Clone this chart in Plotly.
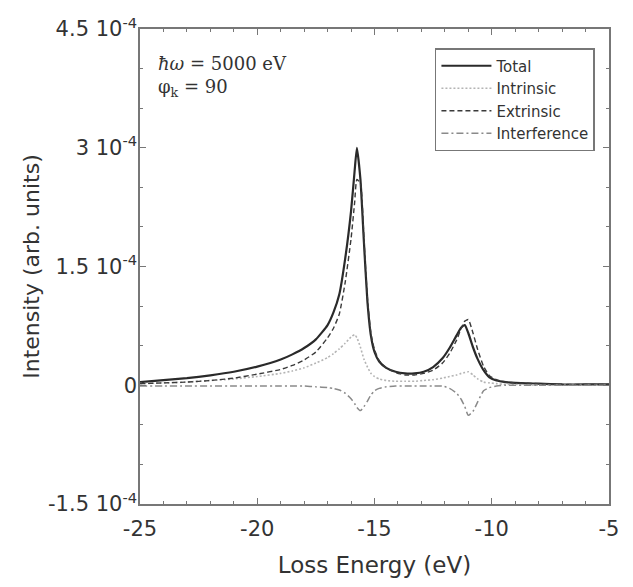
import plotly.graph_objects as go

energy = [-25, -24, -23, -22, -21, -20, -19, -18.5, -18, -17.5,
          -17, -16.75, -16.5, -16.25, -16, -15.85, -15.75, -15.6, -15.45, -15.3,
          -15.15, -15.0, -14.8, -14.5, -14.1, -13.7, -13.3, -12.9, -12.5, -12.1,
          -11.8, -11.5, -11.3, -11.15, -11.0, -10.8, -10.6, -10.35, -10.1, -9.8,
          -9.4, -9, -8, -7, -6, -5]

total = [0.04, 0.065, 0.09, 0.125, 0.17, 0.235, 0.325, 0.39, 0.47, 0.58,
         0.76, 0.92, 1.15, 1.6, 2.2, 2.7, 3.0, 2.6, 1.8, 1.05,
         0.62, 0.42, 0.3, 0.22, 0.17, 0.15, 0.15, 0.17, 0.23, 0.34,
         0.47, 0.63, 0.73, 0.76, 0.66, 0.48, 0.33, 0.19, 0.1, 0.06,
         0.04, 0.03, 0.02, 0.01, 0.01, 0.01]

intrinsic = [0.02, 0.03, 0.04, 0.06, 0.08, 0.11, 0.15, 0.18, 0.22, 0.28,
             0.35, 0.40, 0.46, 0.53, 0.61, 0.64, 0.60, 0.48, 0.33, 0.23,
             0.15, 0.11, 0.08, 0.06, 0.05, 0.05, 0.05, 0.06, 0.07, 0.09,
             0.11, 0.13, 0.15, 0.16, 0.17, 0.13, 0.08, 0.04, 0.03, 0.02,
             0.01, 0.01, 0.0, 0.0, 0.0, 0.0]

extrinsic = [0.02, 0.03, 0.04, 0.06, 0.09, 0.14, 0.20, 0.25, 0.32, 0.42,
             0.60, 0.72, 0.90, 1.30, 1.85, 2.30, 2.60, 2.55, 1.85, 1.10,
             0.65, 0.45, 0.31, 0.22, 0.16, 0.13, 0.13, 0.15, 0.19, 0.28,
             0.40, 0.57, 0.72, 0.81, 0.83, 0.66, 0.45, 0.24, 0.12, 0.07,
             0.04, 0.03, 0.02, 0.01, 0.01, 0.01]

interference = [-0.01, -0.01, -0.01, -0.01, -0.01, -0.01, -0.01, -0.01, -0.01, -0.02,
                -0.03, -0.04, -0.06, -0.10, -0.17, -0.23, -0.28, -0.32, -0.27, -0.20,
                -0.12, -0.07, -0.04, -0.02, -0.01, -0.01, -0.01, -0.01, -0.01, -0.01,
                -0.04, -0.10, -0.18, -0.27, -0.38, -0.33, -0.21, -0.07, -0.03, -0.01,
                0.0, 0.0, 0.0, 0.0, 0.0, 0.0]

scale = 1e-4
y_tickvals = [-1.5, 0, 1.5, 3, 4.5]
y_ticktext = ["-1.5 10<sup>-4</sup>", "0", "1.5 10<sup>-4</sup>", "3 10<sup>-4</sup>", "4.5 10<sup>-4</sup>"]
y_minor = [-1, -0.5, 0.5, 1, 2, 2.5, 3.5, 4]
x_tickvals = [-25, -20, -15, -10, -5]

series = [
    ("Total", total, dict(color="#2a2a2a", width=2.2, dash="solid")),
    ("Intrinsic", intrinsic, dict(color="#b4b4b4", width=1.6, dash="2px,2px")),
    ("Extrinsic", extrinsic, dict(color="#3a3a3a", width=1.4, dash="5px,3px")),
    ("Interference", interference, dict(color="#8a8a8a", width=1.5, dash="7px,3px,2px,3px")),
]

SANS = "DejaVu Sans, Arial"
SERIF = "DejaVu Serif, Times New Roman"
TXT = "#333333"

fig = go.Figure()
for name, vals, line in series:
    fig.add_trace(go.Scatter(x=energy, y=[v * scale for v in vals], mode="lines", name=name,
                             line=dict(shape="spline", smoothing=0.5, **line)))

axis_common = dict(showgrid=False, zeroline=False, showline=True, linecolor="#777777", linewidth=1.5,
                   mirror="allticks", ticks="inside", ticklen=6, tickcolor="#777777", automargin=False,
                   tickfont=dict(family=SANS, size=21, color=TXT))

fig.update_xaxes(range=[-25, -5], tickvals=x_tickvals, ticktext=[str(v) for v in x_tickvals],
                 minor=dict(dtick=1, ticks="inside", ticklen=3, tickcolor="#777777"),
                 ticklabelstandoff=5,
                 title=dict(text="Loss Energy (eV)", font=dict(family=SANS, size=23, color=TXT), standoff=17),
                 **axis_common)
fig.update_yaxes(range=[-1.5 * scale, 4.5 * scale], tickvals=[v * scale for v in y_tickvals], ticktext=y_ticktext,
                 minor=dict(tickvals=[v * scale for v in y_minor], ticks="inside", ticklen=3, tickcolor="#777777"),
                 ticklabelstandoff=-3,
                 title=dict(text="Intensity (arb. units)", font=dict(family=SANS, size=22, color=TXT), standoff=2),
                 **axis_common)

fig.add_annotation(x=0.035, y=0.928, xref="paper", yref="paper", xanchor="left", yanchor="middle",
                   text="<i>ħω</i> = 5000 eV", showarrow=False,
                   font=dict(family=SERIF, size=18, color=TXT))
fig.add_annotation(x=0.035, y=0.875, xref="paper", yref="paper", xanchor="left", yanchor="middle",
                   text="φ<sub>k</sub> = 90", showarrow=False,
                   font=dict(family=SERIF, size=18, color=TXT))

fig.update_layout(
    width=625, height=579,
    margin=dict(l=132, r=24, t=21, b=83),
    paper_bgcolor="white", plot_bgcolor="white",
    showlegend=True,
    legend=dict(x=0.97, y=0.96, xanchor="right", yanchor="top",
                bordercolor="#777777", borderwidth=1.5, bgcolor="white",
                font=dict(family=SANS, size=15, color=TXT),
                tracegroupgap=0, itemwidth=50),
)

fig.write_html("out.html")
